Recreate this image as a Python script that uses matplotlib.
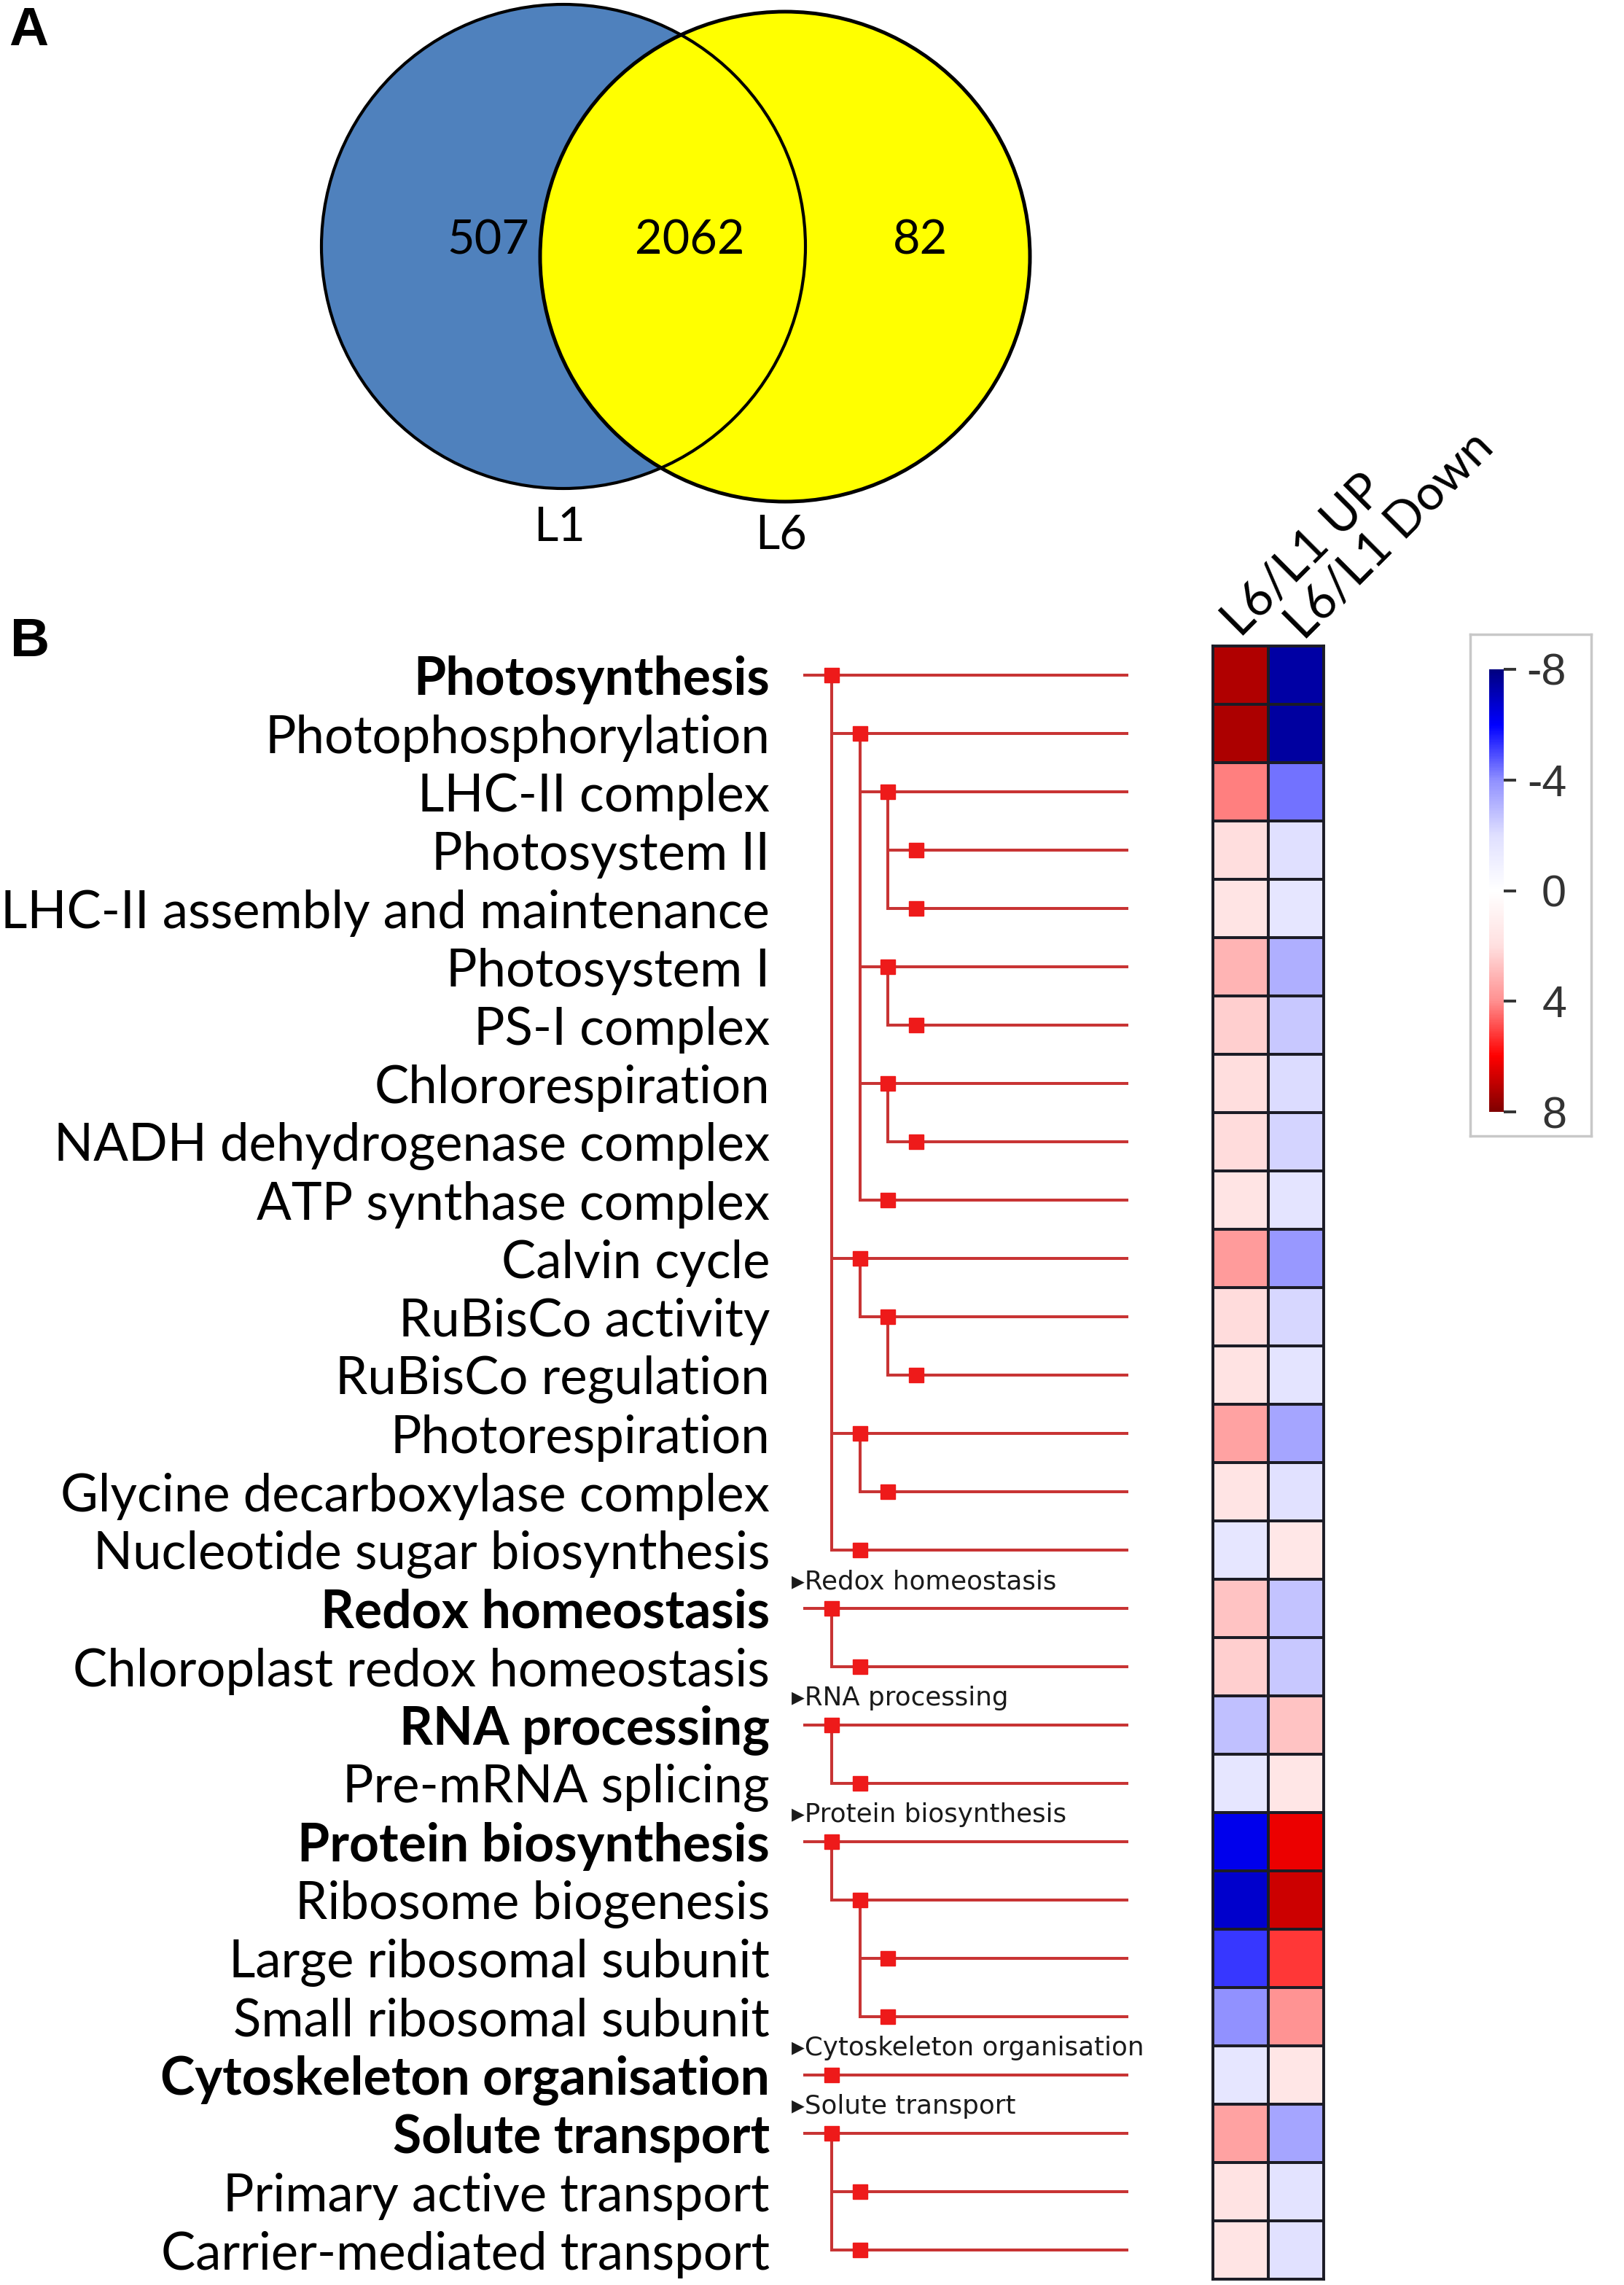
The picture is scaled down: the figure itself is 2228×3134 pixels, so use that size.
import numpy as np
import matplotlib
import matplotlib.pyplot as plt
from matplotlib.colors import LinearSegmentedColormap, Normalize
from matplotlib.patches import Circle, Rectangle
import matplotlib.cm as cm

plt.rcParams['axes.unicode_minus'] = False

# ---- data ----
venn_counts = [507, 2062, 82]   # L1 only, both, L6 only
venn_sets = ['L1', 'L6']

bins = ['Photosynthesis', 'Photophosphorylation', 'LHC-II complex', 'Photosystem II',
        'LHC-II assembly and maintenance', 'Photosystem I', 'PS-I complex',
        'Chlororespiration', 'NADH dehydrogenase complex', 'ATP synthase complex',
        'Calvin cycle', 'RuBisCo activity', 'RuBisCo regulation', 'Photorespiration',
        'Glycine decarboxylase complex', 'Nucleotide sugar biosynthesis',
        'Redox homeostasis', 'Chloroplast redox homeostasis',
        'RNA processing', 'Pre-mRNA splicing',
        'Protein biosynthesis', 'Ribosome biogenesis', 'Large ribosomal subunit',
        'Small ribosomal subunit',
        'Cytoskeleton organisation',
        'Solute transport', 'Primary active transport', 'Carrier-mediated transport']
levels = [0, 1, 2, 3, 3, 2, 3, 2, 3, 2, 1, 2, 3, 1, 2, 1,
          0, 1,
          0, 1,
          0, 1, 2, 2,
          0,
          0, 1, 1]
headers = {16: 'Redox homeostasis', 18: 'RNA processing', 20: 'Protein biosynthesis',
           24: 'Cytoskeleton organisation', 25: 'Solute transport'}
columns = ['L6/L1 UP', 'L6/L1 Down']
up = [7.2, 7.3, 4.2, 2.0, 1.7, 3.1, 2.4, 2.0, 2.1, 1.7, 3.7, 2.1, 1.8, 3.5, 1.7, -1.6,
      2.7, 2.4, -2.8, -1.6, -6.3, -6.8, -5.2, -4.0, -1.6, 3.5, 1.8, 1.7]
down = [-7.4, -7.5, -4.4, -2.0, -1.6, -3.2, -2.6, -2.1, -2.3, -1.7, -3.8, -2.2, -1.7, -3.5,
        -1.9, 1.5, -2.7, -2.6, 2.7, 1.6, 6.3, 6.8, 5.2, 3.9, 1.6, -3.5, -1.8, -1.9]
cbar_ticks = [-8, -4, 0, 4, 8]

# ---- figure ----
W, H = 2228, 3134
fig = plt.figure(figsize=(W / 100, H / 100), dpi=100)
renderer = fig.canvas.get_renderer()


def px_axes(x0, y0, x1, y1, **kw):
    return fig.add_axes([x0 / W, 1 - y1 / H, (x1 - x0) / W, (y1 - y0) / H], **kw)


def fit_size(text, target, family, weight='normal'):
    t = fig.text(0, 0, text, fontsize=40, family=family, weight=weight)
    w = t.get_window_extent(renderer).width
    t.remove()
    return 40 * target / w


lab_font = 'Lato'
fs_norm = fit_size('LHC-II assembly and maintenance', 1054, lab_font)
fs_bold = fit_size('Cytoskeleton organisation', 836, lab_font, 'bold')
fs_head = fit_size('\u25b8Redox homeostasis', 362, 'DejaVu Sans')
fs_venn = fit_size('2062', 150, lab_font)
fs_col = fit_size('L6/L1 Down', 372, lab_font)

# ---- panel A: venn ----
ax_v = px_axes(0, 0, W, 800)
ax_v.set_xlim(0, W)
ax_v.set_ylim(800, 0)
ax_v.axis('off')
blue, yellow = '#4f81bd', '#ffff00'
c1 = (773, 338, 332)
c2 = (1077, 352, 336)
ax_v.add_patch(Circle(c1[:2], c1[2], facecolor=blue, edgecolor='none', zorder=1))
ax_v.add_patch(Circle(c2[:2], c2[2], facecolor=yellow, edgecolor='none', zorder=2))
ax_v.add_patch(Circle(c1[:2], c1[2], fill=False, edgecolor='black', lw=3.0, zorder=3))
ax_v.add_patch(Circle(c2[:2], c2[2], fill=False, edgecolor='black', lw=3.6, zorder=3))
for x, n in zip([670, 946, 1262], venn_counts):
    ax_v.text(x, 330, str(n), fontsize=fs_venn, family=lab_font, ha='center',
              va='center', zorder=4)
for x, y, s in zip([768, 1072], [724, 734], venn_sets):
    ax_v.text(x, y, s, fontsize=fs_venn, family=lab_font, ha='center', va='center')

fig.text(12 / W, 1 - 8 / H, 'A', fontsize=54, family='Liberation Sans',
         weight='bold', va='top', ha='left')
fig.text(14 / W, 1 - 846 / H, 'B', fontsize=54, family='Liberation Sans',
         weight='bold', va='top', ha='left')

# ---- panel B: labels + tree ----
n = len(bins)
top, bot = 886, 3126
ax_t = px_axes(0, top, 1660, bot)
ax_t.set_xlim(0, 1660)
ax_t.set_ylim(n, 0)
ax_t.axis('off')

line_c, mark_c = '#c83434', '#ee1a1a'
x0, step, x_end = 1141, 38.5, 1548


def xl(L):
    return x0 + step * L


for i, L in enumerate(levels):
    y = i + 0.5
    xs = xl(L - 1) if L > 0 else xl(0) - 39
    ax_t.plot([xs, x_end], [y, y], color=line_c, lw=2.9, solid_capstyle='butt')
    last = None
    for j in range(i + 1, n):
        if levels[j] <= L:
            break
        if levels[j] == L + 1:
            last = j
    if last is not None:
        ax_t.plot([xl(L), xl(L)], [y, last + 0.5], color=line_c, lw=2.9)
    ax_t.plot(xl(L), y, marker='s', ms=14, color=mark_c, mec=mark_c, zorder=5)

bold_rows = [0] + list(headers.keys())
for i, name in enumerate(bins):
    b = i in bold_rows
    ax_t.text(1056, i + 0.58, name, ha='right', va='center', family=lab_font,
              fontsize=fs_bold if b else fs_norm, weight='bold' if b else 'normal')

for g, name in headers.items():
    ax_t.text(1086, g + 0.04, '\u25b8' + name, ha='left', va='center',
              family='DejaVu Sans', fontsize=fs_head, color='#1a1a1a')

# ---- heatmap ----
nodes = [(0.0, '#000080'), (0.125, '#0000ff'), (0.25, '#9090ff'), (0.375, '#e0e0ff'),
         (0.5, '#ffffff'), (0.625, '#ffe0e0'), (0.75, '#ff9090'), (0.875, '#ff0000'),
         (1.0, '#800000')]
cmap = LinearSegmentedColormap.from_list('mapman', nodes)
norm = Normalize(-8, 8)

ax_h = px_axes(1664, top, 1816, bot)
ax_h.pcolormesh(np.array([up, down]).T, cmap=cmap, norm=norm,
                edgecolors='#1c1c26', linewidth=2.8)
ax_h.set_xlim(0, 2)
ax_h.set_ylim(n, 0)
ax_h.set_xticks([])
ax_h.set_yticks([])
for sp in ax_h.spines.values():
    sp.set_color('#1c1c26')
    sp.set_linewidth(2.8)

for k, (xc, s) in enumerate(zip([1702, 1789], columns)):
    fig.text(xc / W, 1 - (876 + 4 * k) / H, s, rotation=45, rotation_mode='anchor',
             ha='left', va='baseline', family=lab_font, fontsize=fs_col)

# ---- colorbar ----
box = px_axes(2017, 870, 2183, 1558, zorder=0)
box.set_xticks([])
box.set_yticks([])
box.set_facecolor('white')
for sp in box.spines.values():
    sp.set_color('#c8c8c8')
    sp.set_linewidth(2.5)

cax = px_axes(2043, 918, 2063, 1525, zorder=2)
cb = fig.colorbar(cm.ScalarMappable(norm=norm, cmap=cmap), cax=cax)
cb.outline.set_visible(False)
cax.invert_yaxis()
cb.set_ticks(cbar_ticks)
cb.set_ticklabels([str(t) for t in cbar_ticks])
cax.tick_params(length=12, width=2.8, color='#333333', pad=50,
                labelsize=44, labelcolor='#333333')
for lbl in cax.get_yticklabels():
    lbl.set_ha('right')
    lbl.set_family('Liberation Sans')

fig.savefig('out.png', dpi=100, facecolor='white')
